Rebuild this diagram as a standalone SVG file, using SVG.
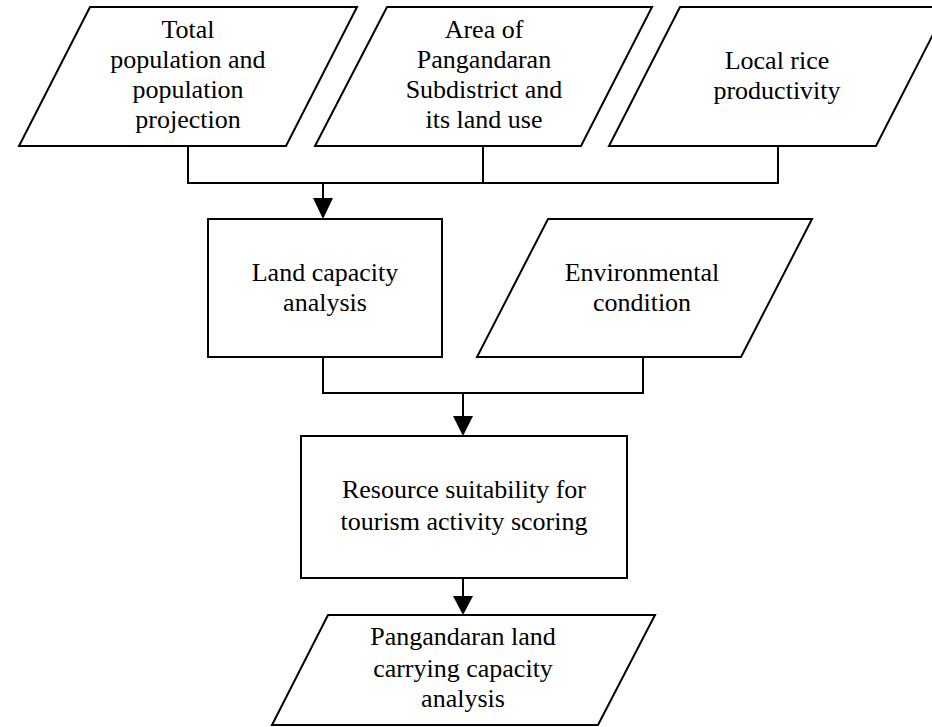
<svg xmlns="http://www.w3.org/2000/svg" width="932" height="727" viewBox="0 0 932 727">
<style>
.shape{fill:#fff;stroke:#000;stroke-width:2}
.conn{fill:none;stroke:#000;stroke-width:2}
.head{fill:#000;stroke:none}
text{font-family:"Liberation Serif","Times New Roman",serif;font-size:26px;fill:#000;text-anchor:middle}
</style>
<rect x="0" y="0" width="932" height="727" fill="#fff"/>
<g id="n1">
<polygon class="shape" points="90,7 357,7 286,146 19,146"/>
<text x="188" y="38">Total</text>
<text x="188" y="68">population and</text>
<text x="188" y="98">population</text>
<text x="188" y="128">projection</text>
</g>
<g id="n2">
<polygon class="shape" points="387,7 652,7 581,146 315,146"/>
<text x="484" y="38">Area of</text>
<text x="484" y="68">Pangandaran</text>
<text x="484" y="98">Subdistrict and</text>
<text x="484" y="128">its land use</text>
</g>
<g id="n3">
<polygon class="shape" points="680,7 947,7 876,146 609,146"/>
<text x="777" y="69">Local rice</text>
<text x="777" y="99">productivity</text>
</g>
<g id="n4">
<rect class="shape" x="208" y="219" width="234" height="138"/>
<text x="325" y="281">Land capacity</text>
<text x="325" y="311">analysis</text>
</g>
<g id="n5">
<polygon class="shape" points="548,219 812,219 741,357 477,357"/>
<text x="642" y="281">Environmental</text>
<text x="642" y="311">condition</text>
</g>
<g id="n6">
<rect class="shape" x="301" y="436" width="326" height="142"/>
<text x="464" y="498">Resource suitability for</text>
<text x="464" y="530">tourism activity scoring</text>
</g>
<g id="n7">
<polygon class="shape" points="328,615 655,615 598,725 272,725"/>
<text x="463" y="645">Pangandaran land</text>
<text x="463" y="677">carrying capacity</text>
<text x="463" y="707">analysis</text>
</g>
<g id="connectors">
<path class="conn" d="M188,146 V183 H778 V146 M483,146 V183"/>
<path class="conn" d="M323,183 V200"/>
<polygon class="head" points="313,198 333,198 323,219"/>
<path class="conn" d="M323,357 V393 H643 V357"/>
<path class="conn" d="M463,393 V418"/>
<polygon class="head" points="453,416 473,416 463,436"/>
<path class="conn" d="M463,578 V598"/>
<polygon class="head" points="453,596 473,596 463,615"/>
</g>
</svg>
